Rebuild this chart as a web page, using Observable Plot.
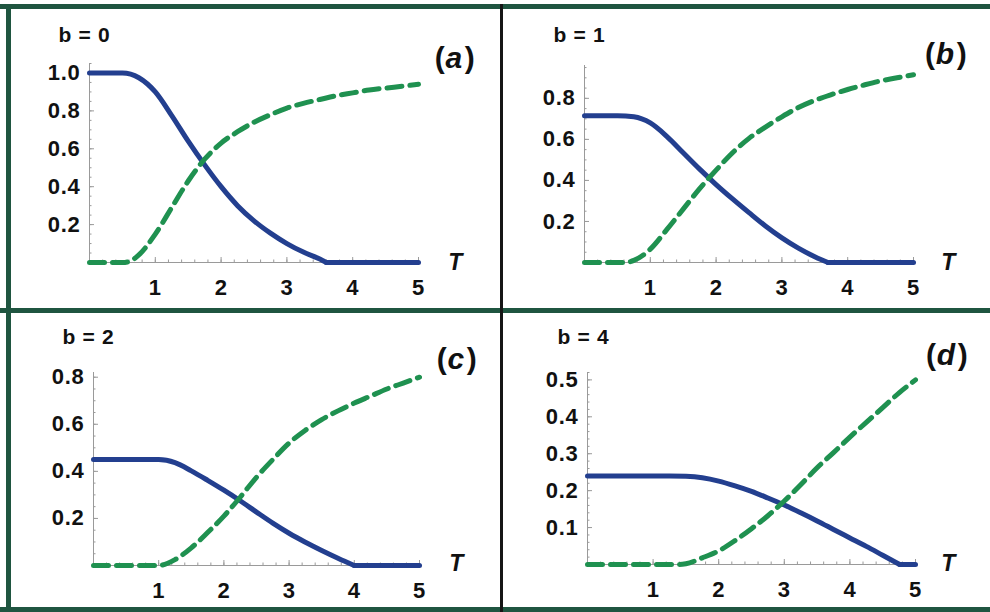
<!DOCTYPE html>
<html><head><meta charset="utf-8">
<script src="https://cdn.jsdelivr.net/npm/d3@7"></script>
<script src="https://cdn.jsdelivr.net/npm/@observablehq/plot@0.6"></script>
<style>
html,body{margin:0;padding:0;background:#fff;}
#fig{position:relative;width:990px;height:612px;overflow:hidden;background:#fff;}
#fig .panel{position:absolute;}
#fig .panel text{letter-spacing:0.7px;}
#fig .bar{position:absolute;z-index:5;}
</style></head><body>
<div id="fig"></div>
<script>
// ---- data ----
const xTicks = [1, 2, 3, 4, 5];
const panelLabels = ["b = 0", "b = 1", "b = 2", "b = 4"];
const panelTags = ["a", "b", "c", "d"];
const yTicksA = [0.2, 0.4, 0.6, 0.8, 1.0];
const yTicksB = [0.2, 0.4, 0.6, 0.8];
const yTicksC = [0.2, 0.4, 0.6, 0.8];
const yTicksD = [0.1, 0.2, 0.3, 0.4, 0.5];

// [T, value]
const blueA = [[0,1],[0.25,1],[0.5,1],[0.75,0.975],[1,0.9],[1.25,0.775],[1.5,0.64],[1.75,0.515],[2,0.4],[2.25,0.3],[2.5,0.22],[2.75,0.155],[3,0.1],[3.25,0.055],[3.5,0.018],[3.6,0],[4,0],[4.5,0],[5,0]];
const greenA = [[0,0],[0.5,0],[0.6,0.005],[0.75,0.04],[1,0.15],[1.25,0.29],[1.5,0.43],[1.75,0.545],[2,0.63],[2.25,0.69],[2.5,0.74],[2.75,0.78],[3,0.815],[3.25,0.84],[3.5,0.86],[3.75,0.88],[4,0.895],[4.25,0.91],[4.5,0.92],[4.75,0.93],[5,0.94]];

const blueB = [[0,0.715],[0.5,0.715],[0.75,0.71],[1,0.68],[1.25,0.615],[1.5,0.535],[1.75,0.455],[2,0.38],[2.25,0.31],[2.5,0.243],[2.75,0.178],[3,0.12],[3.25,0.07],[3.5,0.028],[3.7,0],[4,0],[4.5,0],[5,0]];
const greenB = [[0,0],[0.6,0],[0.75,0.01],[1,0.065],[1.25,0.16],[1.5,0.26],[1.75,0.36],[2,0.45],[2.25,0.535],[2.5,0.605],[2.75,0.66],[3,0.71],[3.25,0.755],[3.5,0.79],[3.75,0.818],[4,0.843],[4.25,0.865],[4.5,0.885],[4.75,0.9],[5,0.915]];

const blueC = [[0,0.45],[0.5,0.45],[1,0.45],[1.25,0.437],[1.5,0.402],[1.75,0.362],[2,0.32],[2.25,0.275],[2.5,0.227],[2.75,0.18],[3,0.137],[3.25,0.099],[3.5,0.064],[3.75,0.031],[4,0],[4.5,0],[5,0]];
const greenC = [[0,0],[0.5,0],[1,0],[1.25,0.025],[1.5,0.075],[1.75,0.14],[2,0.21],[2.25,0.29],[2.5,0.375],[2.75,0.45],[3,0.52],[3.25,0.575],[3.5,0.62],[3.75,0.657],[4,0.69],[4.25,0.72],[4.5,0.75],[4.75,0.775],[5,0.8]];

const blueD = [[0,0.24],[0.5,0.24],[1,0.24],[1.25,0.24],[1.5,0.239],[1.75,0.235],[2,0.226],[2.25,0.213],[2.5,0.198],[2.75,0.18],[3,0.161],[3.25,0.14],[3.5,0.118],[3.75,0.095],[4,0.072],[4.25,0.049],[4.5,0.025],[4.76,0],[5,0]];
const greenD = [[0,0],[0.5,0],[1,0],[1.4,0],[1.5,0.002],[1.75,0.018],[2,0.037],[2.25,0.065],[2.5,0.097],[2.75,0.132],[3,0.172],[3.25,0.216],[3.5,0.262],[3.75,0.303],[4,0.345],[4.25,0.385],[4.5,0.425],[4.75,0.465],[5,0.5]];

// ---- styling ----
const BLUE = "#233f8f";
const GREEN = "#1f9150";
const AXIS = "#9a9a9a";
const FONT = "'Liberation Sans', Arial, Helvetica, sans-serif";

// split a series where it first reaches zero, so the corner stays sharp
function splitAtZero(series) {
  const k = series.findIndex((d, i) => i > 0 && d[1] === 0);
  if (k < 0) return [series, []];
  return [series.slice(0, k + 1), series.slice(k)];
}

function panel(cfg) {
  const xMinor = d3.range(0, 5.001, 0.2);
  const yMinor = d3.range(0, cfg.yTop + 1e-9, cfg.yMinorStep);
  const [blueFall, blueFlat] = splitAtZero(cfg.blue);
  const lineOpts = {x: d => d[0], y: d => d[1]};
  const plot = Plot.plot({
    width: cfg.width, height: cfg.height,
    marginLeft: cfg.ml, marginRight: cfg.mr, marginTop: cfg.mt, marginBottom: cfg.mb,
    x: {domain: [0, 5], axis: null},
    y: {domain: [0, cfg.yTop], axis: null},
    style: {fontFamily: FONT, background: "transparent", color: "#111", overflow: "visible"},
    marks: [
      Plot.ruleY([0], {stroke: AXIS, strokeWidth: 1}),
      Plot.ruleX([0], {stroke: AXIS, strokeWidth: 1}),
      Plot.axisX(xMinor, {tickSize: -2.5, tickFormat: () => "", stroke: AXIS}),
      Plot.axisY(yMinor, {tickSize: -2.5, tickFormat: () => "", stroke: AXIS}),
      Plot.axisX(xTicks, {tickSize: -5, tickFormat: () => "", stroke: AXIS}),
      Plot.axisY(cfg.yTicks, {tickSize: -5, tickFormat: () => "", stroke: AXIS}),
      Plot.axisX(xTicks, {tickSize: 0, tickPadding: 17, fontSize: 22, fontWeight: "bold", fill: "#111", tickFormat: d3.format("d")}),
      Plot.axisY(cfg.yTicks, {tickSize: 0, tickPadding: 9, fontSize: 22, fontWeight: "bold", fill: "#111", tickFormat: d3.format(".1f")}),
      Plot.line(blueFall, {...lineOpts, stroke: BLUE, strokeWidth: 5, curve: "monotone-x"}),
      Plot.line(blueFlat, {...lineOpts, stroke: BLUE, strokeWidth: 5, strokeLinecap: "round"}),
      Plot.line(cfg.green, {...lineOpts, stroke: GREEN, strokeWidth: 5, strokeDasharray: "15,8", curve: "monotone-x"}),
      Plot.text([cfg.label], {frameAnchor: "top-left", textAnchor: "start", lineAnchor: "bottom", dx: cfg.lab[0], dy: cfg.lab[1], fontSize: 21, fontWeight: "bold", fill: "#111"}),
      Plot.text(["(" + cfg.tag + ")"], {frameAnchor: "top-right", textAnchor: "end", lineAnchor: "bottom", dx: cfg.tagPos[0], dy: cfg.tagPos[1], fontSize: 30, fontWeight: "bold", fill: "#111"}),
      Plot.text(["T"], {frameAnchor: "bottom-right", textAnchor: "middle", lineAnchor: "middle", dx: cfg.tPos[0], dy: cfg.tPos[1], fontSize: 23, fontWeight: "bold", fontStyle: "italic", fill: "#111"})
    ]
  });
  // italicise the panel letter inside upright parentheses
  d3.select(plot).selectAll("text").each(function() {
    const t = this.textContent;
    if (t === "(" + cfg.tag + ")") {
      const s = d3.select(this);
      s.text(null);
      s.append("tspan").text("(");
      s.append("tspan").attr("font-style", "italic").text(cfg.tag);
      s.append("tspan").attr("dx", "2").text(")");
    }
  });
  plot.classList.add("panel");
  plot.style.left = cfg.left + "px";
  plot.style.top = cfg.top + "px";
  return plot;
}

const fig = document.getElementById("fig");
const configs = [
  {left: 0, top: 0, width: 500, height: 307, ml: 89, mr: 82, mt: 63, mb: 45, yTop: 1.05, yMinorStep: 0.05,
   yTicks: yTicksA, blue: blueA, green: greenA, label: panelLabels[0], tag: panelTags[0],
   lab: [-31, -22], tagPos: [57, 4], tPos: [37, 0]},
  {left: 502, top: 0, width: 488, height: 307, ml: 82, mr: 77, mt: 65, mb: 45, yTop: 0.96, yMinorStep: 0.05,
   yTicks: yTicksB, blue: blueB, green: greenB, label: panelLabels[1], tag: panelTags[1],
   lab: [-31, -24], tagPos: [54, -2], tPos: [35, 0]},
  {left: 0, top: 310, width: 500, height: 300, ml: 93, mr: 81, mt: 62, mb: 45, yTop: 0.82, yMinorStep: 0.05,
   yTicks: yTicksC, blue: blueC, green: greenC, label: panelLabels[2], tag: panelTags[2],
   lab: [-31, -29], tagPos: [58, -4], tPos: [37, -2]},
  {left: 502, top: 310, width: 488, height: 300, ml: 85, mr: 75, mt: 62, mb: 46, yTop: 0.52, yMinorStep: 0.02,
   yTicks: yTicksD, blue: blueD, green: greenD, label: panelLabels[3], tag: panelTags[3],
   lab: [-30, -29], tagPos: [53, -8], tPos: [33, -1]}
];
configs.forEach(c => fig.appendChild(panel(c)));

// frame lines (top, left, bottom, middle horizontal in green; middle vertical in black)
const bars = [
  {l: 0, t: 4, w: 990, h: 5, c: "#1f5540"},
  {l: 6, t: 4, w: 5, h: 608, c: "#1f5540"},
  {l: 0, t: 607, w: 990, h: 5, c: "#1f5540"},
  {l: 0, t: 308, w: 990, h: 5, c: "#1f5540"},
  {l: 500, t: 4, w: 3, h: 608, c: "#151515"}
];
bars.forEach(b => {
  const d = document.createElement("div");
  d.className = "bar";
  Object.assign(d.style, {left: b.l + "px", top: b.t + "px", width: b.w + "px", height: b.h + "px", background: b.c});
  fig.appendChild(d);
});
</script>
</body></html>
